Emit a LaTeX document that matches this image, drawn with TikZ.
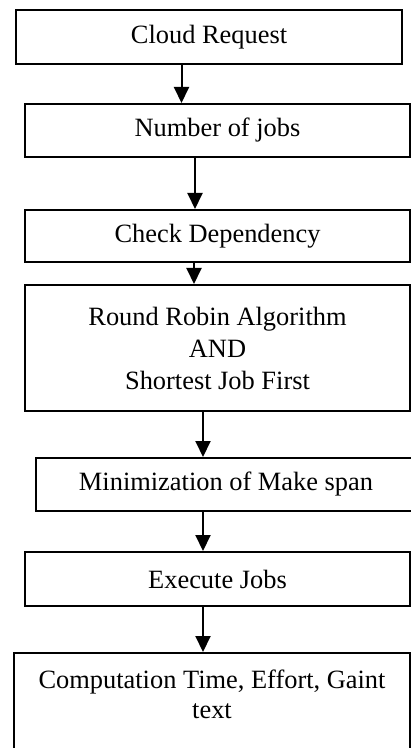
\documentclass[tikz,border=0pt]{standalone}
\usepackage{fontspec}
\setmainfont{Liberation Serif}
\usetikzlibrary{arrows.meta}

\begin{document}
\begin{tikzpicture}[
    x=0.5pt,
    y=-0.5pt,
    >={Triangle[length=8pt,width=7.5pt]},
    box/.style={draw, line width=1pt, rectangle, align=center, inner sep=0pt,
                font=\fontsize{13.2}{16}\selectfont},
    flow/.style={->, line width=1pt}
]
\useasboundingbox (0,0) rectangle (411,748);

% Steps
\node[box, minimum width=193pt, minimum height=27pt] (req) at (209,37) {Cloud Request};
\node[box, minimum width=192.5pt, minimum height=26.5pt] (jobs) at (217.5,130.5) {Number of jobs};
\node[box, minimum width=192.5pt, minimum height=26pt] (dep) at (217.5,236) {Check Dependency};
\node[box, minimum width=192.5pt, minimum height=63pt] (algo) at (217.5,348) {Round Robin Algorithm\\AND\\Shortest Job First};
\node[box, minimum width=190pt, minimum height=26.5pt] (span) at (226,484.5) {Minimization of Make span};
\node[box, minimum width=192.5pt, minimum height=27pt] (exec) at (217.5,579) {Execute Jobs};
\node[box, anchor=north, minimum width=198pt, inner ysep=8.5pt,
      font=\fontsize{13.2}{15}\selectfont] (out) at (212,652) {Computation Time, Effort, Gaint\\text\\~};

% Arrows
\draw[flow] (req.south -| 181.5,0) -- (jobs.north -| 181.5,0);
\draw[flow] (jobs.south -| 195,0) -- (dep.north -| 195,0);
\draw[flow] (dep.south -| 194,0) -- (algo.north -| 194,0);
\draw[flow] (algo.south -| 203,0) -- (span.north -| 203,0);
\draw[flow] (span.south -| 203,0) -- (exec.north -| 203,0);
\draw[flow] (exec.south -| 203,0) -- (out.north -| 203,0);

\end{tikzpicture}
\end{document}
